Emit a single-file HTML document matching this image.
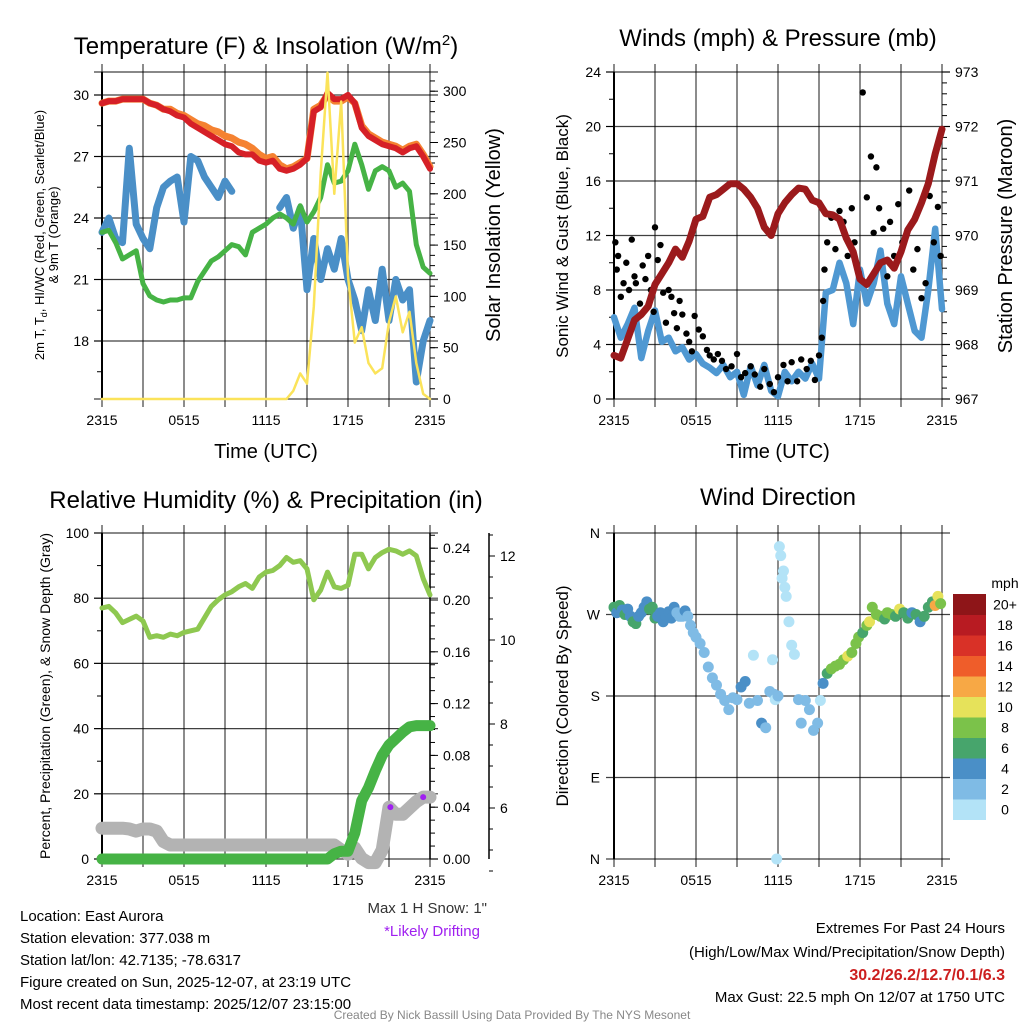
<!DOCTYPE html>
<html><head><meta charset="utf-8"><style>
html,body{margin:0;padding:0;background:#fff;}
svg{display:block;font-family:"Liberation Sans",sans-serif;}
</style></head><body>
<svg id="chart" width="1024" height="1024" viewBox="0 0 1024 1024" xmlns="http://www.w3.org/2000/svg">
<rect width="1024" height="1024" fill="#fff"/>
<text x="266" y="54" font-size="24" text-anchor="middle">Temperature (F) &amp; Insolation (W/m<tspan dy="-9" font-size="15">2</tspan><tspan dy="9">)</tspan></text>
<text x="778" y="46" font-size="24" text-anchor="middle">Winds (mph) &amp; Pressure (mb)</text>
<text x="266" y="508" font-size="24" text-anchor="middle">Relative Humidity (%) &amp; Precipitation (in)</text>
<text x="778" y="505" font-size="24" text-anchor="middle">Wind Direction</text>

<text transform="translate(44,235) rotate(-90)" font-size="13" text-anchor="middle">2m T, T<tspan dy="3" font-size="9">d</tspan><tspan dy="-3">, HI/WC (Red, Green, Scarlet/Blue)</tspan></text>
<text transform="translate(58,235) rotate(-90)" font-size="13" text-anchor="middle">&amp; 9m T (Orange)</text>
<text transform="translate(500,235) rotate(-90)" font-size="20" text-anchor="middle">Solar Insolation (Yellow)</text>
<text transform="translate(568,236) rotate(-90)" font-size="17" text-anchor="middle">Sonic Wind &amp; Gust (Blue, Black)</text>
<text transform="translate(1012,236) rotate(-90)" font-size="20" text-anchor="middle">Station Pressure (Maroon)</text>
<text transform="translate(50,696) rotate(-90)" font-size="14" text-anchor="middle">Percent, Precipitation (Green), &amp; Snow Depth (Gray)</text>
<text transform="translate(568,696) rotate(-90)" font-size="17" text-anchor="middle">Direction (Colored By Speed)</text>
<text x="266" y="458" font-size="20" text-anchor="middle">Time (UTC)</text>
<text x="778" y="458" font-size="20" text-anchor="middle">Time (UTC)</text>

<g id="g1"></g>
<g id="g2"></g>
<g id="g3"></g>
<g id="g4"></g>

<g font-size="15">
<text x="20" y="921">Location: East Aurora</text>
<text x="20" y="943">Station elevation: 377.038 m</text>
<text x="20" y="965">Station lat/lon: 42.7135; -78.6317</text>
<text x="20" y="987">Figure created on Sun, 2025-12-07, at 23:19 UTC</text>
<text x="20" y="1009">Most recent data timestamp: 2025/12/07 23:15:00</text>
</g>
<text x="487" y="913" font-size="15" text-anchor="end" fill="#333">Max 1 H Snow: 1"</text>
<text x="432" y="936" font-size="15" text-anchor="middle" fill="#a020f0">*Likely Drifting</text>
<g font-size="15" text-anchor="end">
<text x="1005" y="933">Extremes For Past 24 Hours</text>
<text x="1005" y="957">(High/Low/Max Wind/Precipitation/Snow Depth)</text>
<text x="1005" y="980" fill="#cc1f1f" font-weight="bold" font-size="16">30.2/26.2/12.7/0.1/6.3</text>
<text x="1005" y="1002">Max Gust: 22.5 mph On 12/07 at 1750 UTC</text>
</g>
<text x="512" y="1019" font-size="12" text-anchor="middle" fill="#888">Created By Nick Bassill Using Data Provided By The NYS Mesonet</text>
</svg>
<script>
// ---- data (half-hourly from 2315 UTC) ----
const xTickLabels = ["2315","0515","1115","1715","2315"];
const tempRed = [29.6,29.7,29.7,29.8,29.8,29.8,29.8,29.6,29.5,29.3,29.2,29.0,28.9,28.6,28.4,28.2,28.0,27.8,27.6,27.5,27.2,27.1,27.1,26.8,26.7,26.8,26.4,26.3,26.4,26.6,26.9,29.2,29.4,30.1,29.8,29.8,30.0,29.6,28.4,28.0,27.8,27.6,27.5,27.4,27.2,27.4,27.5,27.0,26.4];
const tempOrange = [29.6,29.7,29.7,29.8,29.8,29.8,29.8,29.6,29.5,29.3,29.3,29.1,29.0,28.8,28.6,28.5,28.3,28.2,28.0,27.9,27.7,27.6,27.4,27.1,26.9,27.0,26.6,26.4,26.5,26.7,26.9,29.3,29.5,30.0,29.7,29.7,29.9,29.6,28.5,28.1,27.9,27.7,27.6,27.5,27.3,27.5,27.6,27.1,26.5];
const dewGreen = [23.3,23.4,22.8,22.0,22.2,22.4,20.8,20.2,20.0,19.9,20.0,20.0,20.1,20.1,20.9,21.4,21.9,22.1,22.4,22.7,22.6,22.2,23.3,23.5,23.7,24.0,24.2,24.0,23.7,24.6,23.8,24.3,25.0,26.6,25.7,25.8,26.3,27.6,26.6,25.4,26.3,26.5,26.3,25.5,25.7,25.3,22.7,21.6,21.3];
const windChill = [23.3,24.0,23.0,22.8,27.4,23.7,23.0,22.5,24.5,25.5,25.8,26.0,23.8,27.0,26.8,26.0,25.5,25.0,25.8,25.3,null,25.4,null,null,24.8,null,24.5,25.0,23.5,24.5,20.5,23.0,21.0,22.5,21.5,23.0,21.0,20.0,18.5,20.5,19.0,21.5,19.0,21.0,20.0,20.5,16.0,18.0,19.0];
const insolation = [0,0,0,0,0,0,0,0,0,0,0,0,0,0,0,0,0,0,0,0,0,0,0,0,0,0,0,0,8,25,15,90,220,318,200,290,120,55,70,35,25,30,75,100,65,85,35,5,0];
const windSpeed = [6.0,4.5,5.5,6.7,3.0,5.0,6.5,4.2,4.5,3.5,3.8,2.9,3.3,2.6,2.3,1.9,2.5,1.6,2.0,0.3,2.4,1.0,2.5,0.6,0.2,2.0,1.3,2.0,1.5,2.6,1.5,7.8,8.0,10.0,8.5,5.5,9.5,7.0,8.5,10.9,7.0,5.5,9.0,7.0,5.0,4.5,8.0,12.5,6.6];
const pressure = [967.8,967.75,968.1,968.45,968.55,968.7,969.1,969.3,969.5,969.75,969.6,969.9,970.3,970.35,970.7,970.75,970.85,970.95,970.95,970.85,970.7,970.5,970.15,970.0,970.4,970.6,970.75,970.87,970.85,970.65,970.6,970.4,970.38,970.3,969.95,969.7,969.2,969.1,969.3,969.5,969.55,969.4,969.7,970.1,970.3,970.6,970.95,971.5,971.95];
const gustHours = [0.1,0.2,0.3,0.5,0.7,0.9,1.1,1.3,1.5,1.6,1.9,2.1,2.3,2.5,2.7,2.9,3.0,3.2,3.4,3.6,3.8,4.0,4.2,4.4,4.6,4.8,5.0,5.3,5.5,5.7,5.9,6.2,6.5,6.8,7.0,7.3,7.6,7.9,8.2,8.6,9.0,9.3,9.6,10.0,10.3,10.7,11.0,11.4,11.7,12.0,12.4,12.7,13.0,13.4,13.7,14.1,14.4,14.7,15.0,15.2,15.3,15.4,15.6,15.9,16.2,16.5,16.8,17.1,17.4,17.6,17.9,18.2,18.5,18.8,19.0,19.2,19.4,19.7,20.0,20.2,20.5,20.8,21.1,21.4,21.6,21.9,22.2,22.5,22.8,23.1,23.4,23.7,23.9];
const gustValues = [11.5,9.5,10.5,7.5,8.5,10,8,11.7,9,8.5,7,9.8,8.8,10.5,8,6.4,12.6,10.2,11.3,7.8,5.6,8,7.5,6.3,5.2,7.2,6.2,4.8,4.2,3.5,6.1,5.1,4.6,3.6,3.2,2.9,3.3,2.8,2.2,2.4,3.3,1.6,1.9,2.4,1.8,0.9,2.2,1.1,0.5,1.6,2.5,1.3,2.7,1.3,2.9,2.2,2.8,1.4,3.2,4.5,7.2,9.5,11.5,13.3,11,13.8,13,10.5,14,11.5,9.3,22.5,14.8,17.8,12.2,17,14,12.5,9,13,10.5,14.3,11.5,12,15.3,9.5,11,7.4,8.5,14.9,11.5,14.1,10.5];
const relHum = [77,77.5,75.5,72.5,73.5,74.5,73,68,68.5,68,69,68.5,69.5,70,70.5,74,77.5,79.5,81,82,83.5,84.5,83,86.5,88,88.5,90,92.5,91,91.5,89,79.5,82.5,88,83.5,83,84,93.5,93.5,89,92.5,94,95,94.5,93.5,94.5,93,86,81];
const precip = [0,0,0,0,0,0,0,0,0,0,0,0,0,0,0,0,0,0,0,0,0,0,0,0,0,0,0,0,0,0,0,0,0,0,0.004,0.006,0.006,0.02,0.045,0.055,0.068,0.08,0.088,0.093,0.098,0.102,0.103,0.103,0.103];
const snowDepth = [5.52,5.52,5.52,5.52,5.5,5.45,5.5,5.5,5.45,5.2,5.12,5.12,5.12,5.12,5.12,5.12,5.12,5.12,5.12,5.12,5.12,5.12,5.12,5.12,5.12,5.12,5.12,5.12,5.12,5.12,5.12,5.12,5.12,5.12,5.12,5.0,4.9,5.05,4.8,4.7,4.7,5.0,6.02,5.85,5.85,6.0,6.15,6.26,6.26];
const driftHours = [21.1,23.5];
const driftValues = [6.02,6.26];
const dirHours = [0.0,0.2,0.4,0.6,0.8,1.0,1.2,1.4,1.6,1.8,2.0,2.2,2.4,2.6,2.8,3.0,3.2,3.4,3.6,3.8,4.0,4.2,4.4,4.6,4.8,5.0,5.2,5.4,5.6,5.8,6.0,6.3,6.6,6.9,7.2,7.5,7.8,8.1,8.4,8.7,9.0,9.3,9.6,9.9,10.2,10.5,10.8,11.1,11.4,11.6,11.7,11.8,11.9,12.0,12.1,12.2,12.3,12.4,12.5,12.6,12.8,13.0,13.2,13.5,13.7,14.0,14.3,14.6,14.9,15.1,15.3,15.6,15.9,16.2,16.5,16.8,17.1,17.4,17.7,17.9,18.2,18.5,18.7,18.9,19.2,19.5,19.8,20.0,20.3,20.6,20.9,21.2,21.5,21.8,22.1,22.4,22.7,23.0,23.3,23.5,23.7,23.9];
const dirValues = [278,272,280,275,270,276,268,262,260,268,272,278,284,276,278,266,268,272,262,268,273,266,278,272,268,268,274,268,258,250,245,238,228,212,200,192,182,175,165,178,176,190,196,172,225,175,150,145,185,220,182,176,0,180,345,335,310,318,300,290,262,236,226,176,150,175,165,142,150,175,194,205,210,213,215,220,224,228,238,245,250,258,262,278,270,268,265,272,270,268,276,272,266,272,270,262,268,278,284,280,290,282];
const dirSpeeds = [6,5,7,4,6,5,5,6,7,4,4,5,4,6,6,6,4,4,4,5,4,4,4,3,3,3,4,3,3,3,3,3,3,3,3,3,3,3,3,3,3,4,4,3,1,3,4,3,3,1,2,1,1,2,1,1,1,1,1,1,1,1,1,3,3,3,3,3,2,1,4,7,8,8,9,9,10,9,8,9,7,8,10,9,8,9,7,8,8,6,10,7,6,5,6,5,6,7,6,12,10,8];
const speedBinLabels = ["0","2","4","6","8","10","12","14","16","18","20+"];
const speedColors = ["#b3e3f7","#7fbbe5","#4a8fc7","#47a56c","#7bc24a","#e6e25a","#f7a845","#ef5d2a","#d93127","#b81b22","#8e1518"];

const NS="http://www.w3.org/2000/svg";
function mk(parent,tag,attrs){const e=document.createElementNS(NS,tag);for(const k in attrs)e.setAttribute(k,attrs[k]);parent.appendChild(e);return e;}
function grid(g,x0,x1,y0,y1,hLines){
  for(let h=0;h<=24;h+=3){const x=x0+(x1-x0)*h/24;
    const l=mk(g,'line',{x1:x,x2:x,y1:y0-8,y2:y1+8,stroke:'#000','stroke-width':1.2,'stroke-opacity':0.75});
    
    }
  hLines.forEach(y=>{const l=mk(g,'line',{x1:x0-8,x2:x1+8,y1:y,y2:y,stroke:'#000','stroke-width':1.2,'stroke-opacity':0.75});
    
    });
  mk(g,'line',{x1:x0,x2:x0,y1:y0,y2:y1,stroke:'#000','stroke-width':2});
  xTickLabels.forEach((t,i)=>{const tx=mk(g,'text',{x:x0+(x1-x0)*i/4,y:y1+26,'font-size':14,'text-anchor':'middle'});tx.textContent=t;
    
    });
}
function ticks(g,x,vals,yf,dir,labels,len,fmt){
  vals.forEach(v=>{const y=yf(v);mk(g,'line',{x1:x,x2:x+dir*len,y1:y,y2:y,stroke:'#000','stroke-width':1});
    if(labels){const t=mk(g,'text',{x:x+dir*(len+5),y:y+5,'font-size':14,'text-anchor':dir<0?'end':'start'});t.textContent=fmt?fmt(v):v;
      
      }});
}
function range(a,b,s){const r=[];for(let v=a;v<=b+1e-9;v+=s)r.push(+v.toFixed(4));return r;}
function path(g,vals,xf,yf,color,w,name){
  let d='',pen=false;
  vals.forEach((v,i)=>{if(v===null){pen=false;return;}d+=(pen?'L':'M')+xf(i*0.5).toFixed(1)+','+yf(v).toFixed(1);pen=true;});
  const p=mk(g,'path',{d:d,fill:'none',stroke:color,'stroke-width':w,'stroke-linejoin':'round','stroke-linecap':'round'});
  
  
  return p;
}

// ---- Panel 1 ----
(function(){
  const g=document.getElementById('g1');const x0=102,x1=430,y0=72,y1=399;
  const xf=h=>x0+(x1-x0)*h/24;const yT=v=>399-(v-15.17)*20.5;const yW=v=>399-v*1.026;
  grid(g,x0,x1,y0,y1,[18,21,24,27,30].map(yT).concat([y0,y1]));
  ticks(g,x0,[18,21,24,27,30],yT,-1,true,8);
  ticks(g,x0,[16.5,19.5,22.5,25.5,28.5],yT,-1,false,5);
  ticks(g,x1,range(0,300,50),yW,1,true,8);
  ticks(g,x1,range(0,310,10),yW,1,false,5);
  path(g,windChill,xf,yT,'#4a8fc7',7,'wind-chill-line');
  path(g,dewGreen,xf,yT,'#46b345',5,'dewpoint-line');
  path(g,tempOrange,xf,yT,'#f58231',7,'temp-9m-line');
  path(g,tempRed,xf,yT,'#d62027',6,'temp-2m-line');
  path(g,insolation,xf,yW,'#fbe35a',2.5,'insolation-line');
})();
// ---- Panel 2 ----
(function(){
  const g=document.getElementById('g2');const x0=614,x1=942,y0=72,y1=399;
  const xf=h=>x0+(x1-x0)*h/24;const yS=v=>399-v*13.625;const yP=v=>399-(v-967)*54.5;
  grid(g,x0,x1,y0,y1,range(0,24,4).map(yS));
  ticks(g,x0,range(0,24,4),yS,-1,true,8);
  ticks(g,x0,range(2,22,4),yS,-1,false,5);
  ticks(g,x1,range(967,973,1),yP,1,true,8);
  ticks(g,x1,range(967,973,0.2),yP,1,false,5);
  path(g,windSpeed,xf,yS,'#4f98d2',6.5,'sonic-wind-line');
  gustHours.forEach((h,i)=>{const c=mk(g,'circle',{cx:xf(h),cy:yS(gustValues[i]),r:3.2,fill:'#000'});
    
    });
  path(g,pressure,xf,yP,'#9b1a1c',7,'pressure-line');
})();
// ---- Panel 3 ----
(function(){
  const g=document.getElementById('g3');const x0=102,x1=430,y0=533,y1=859;
  const xf=h=>x0+(x1-x0)*h/24;const yR=v=>859-v*3.26;const yPr=v=>859-v/0.04*51.8;const yS=v=>808-(v-6)*42;
  grid(g,x0,x1,y0,y1,range(0,100,20).map(yR));
  ticks(g,x0,range(0,100,20),yR,-1,true,8);
  ticks(g,x0,range(10,90,20),yR,-1,false,5);
  mk(g,'line',{x1:x1,x2:x1,y1:y0,y2:y1,stroke:'#000','stroke-width':1.5});
  ticks(g,x1,range(0,0.24,0.04),yPr,1,true,8,v=>v.toFixed(2));
  ticks(g,x1,range(0,0.25,0.01),yPr,1,false,5);
  mk(g,'line',{x1:489,x2:489,y1:y0,y2:y1,stroke:'#000','stroke-width':1.5});
  ticks(g,489,[6,8,10,12],yS,1,true,6);
  ticks(g,489,range(4.5,12.5,0.5),yS,1,false,4);
  path(g,snowDepth,xf,yS,'#b3b3b3',13,'snow-depth-line');
  path(g,precip,xf,yPr,'#46b345',11,'precip-line');
  path(g,relHum,xf,yR,'#8ec850',5,'rh-line');
  driftHours.forEach((h,i)=>{const c=mk(g,'circle',{cx:xf(h),cy:yS(driftValues[i]),r:3,fill:'#a020f0'});
    
    });
})();
// ---- Panel 4 ----
(function(){
  const g=document.getElementById('g4');const x0=614,x1=942,y0=533,y1=859;
  const xf=h=>x0+(x1-x0)*h/24;const yD=v=>859-v*(326/360);
  grid(g,x0,x1,y0,y1,range(0,360,90).map(yD));
  ["N","E","S","W","N"].forEach((t,i)=>{const tx=mk(g,'text',{x:x0-14,y:yD(i*90)+5,'font-size':14,'text-anchor':'end'});tx.textContent=t;
    
    });
  dirHours.forEach((h,i)=>{const b=Math.min(10,Math.floor(dirSpeeds[i]/2));
    const c=mk(g,'circle',{cx:xf(h),cy:yD(dirValues[i]),r:5.5,fill:speedColors[b]});
    
    });
  const t=mk(g,'text',{x:1005,y:588,'font-size':14,'text-anchor':'middle'});t.textContent='mph';
  
  
  const bh=20.5,top=594;
  speedColors.forEach((c,i)=>{const y=top+(10-i)*bh;
    const r=mk(g,'rect',{x:953,y:y,width:33,height:bh+0.5,fill:c});
    
    
    const l=mk(g,'text',{x:1005,y:y+bh/2+5,'font-size':14,'text-anchor':'middle'});l.textContent=speedBinLabels[i];
    
    });
})();
</script>
</body></html>
